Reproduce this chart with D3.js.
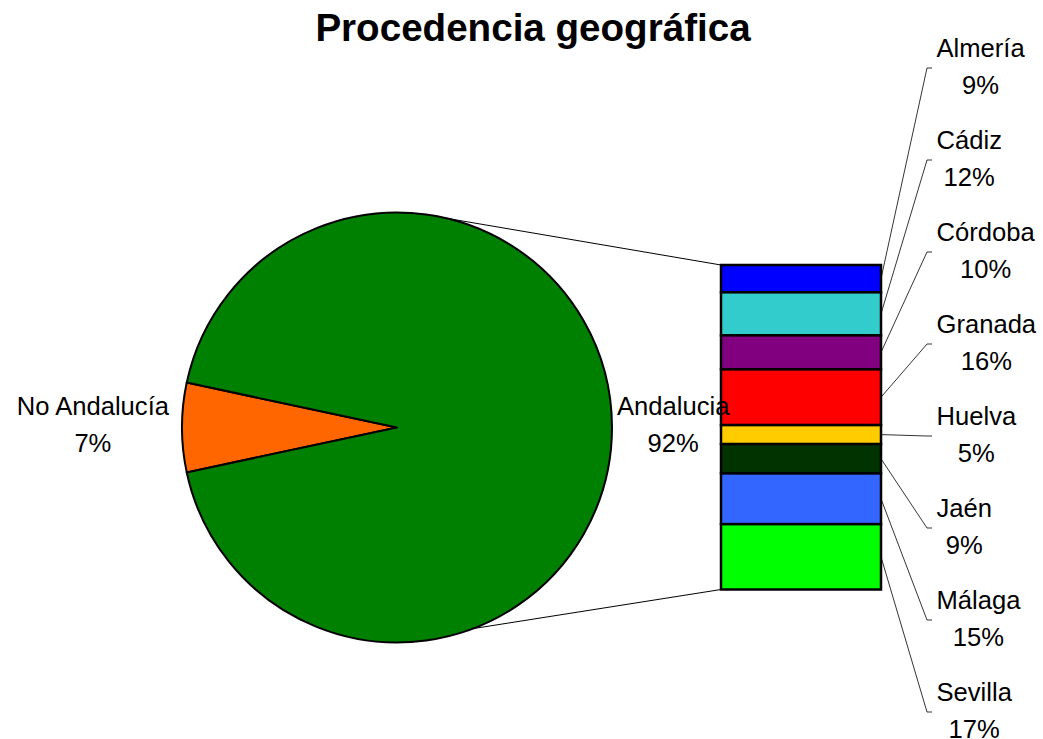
<!DOCTYPE html>
<html>
<head>
<meta charset="utf-8">
<script src="https://cdn.jsdelivr.net/npm/d3@7"></script>
<style>
  body { margin: 0; background: #fff; }
  svg { display: block; }
  text { font-family: "Liberation Sans", Arial, sans-serif; fill: #000; }
</style>
</head>
<body>
<svg id="chart" width="1043" height="739"></svg>
<script>
const title = 'Procedencia geográfica'

// pie: first plot
const pieNames = ['No Andalucía', 'Andalucia']
const pieValues = [6.7, 93.3]
const pieLabels = ['7%', '92%']
const pieColors = ['#ff6600', '#008000']

// bar: desglose de Andalucía
const barNames = ['Almería', 'Cádiz', 'Córdoba', 'Granada', 'Huelva', 'Jaén', 'Málaga', 'Sevilla']
const barValues = [27.3, 43, 34, 55.7, 19, 29.3, 50.7, 65.3]
const barLabels = ['9%', '12%', '10%', '16%', '5%', '9%', '15%', '17%']
const barColors = ['#0000ff', '#33cccc', '#800080', '#ff0000', '#ffcc00', '#003300', '#3366ff', '#00ff00']

const svg = d3.select('#chart')
const cx = 397, cy = 427.5, r = 215 // centro y radio de la tarta
const barX0 = 721, barX1 = 881
const fontSize = 25.6, lineGap = 36.5

svg.append('text')
  .attr('x', 533).attr('y', 41)
  .attr('text-anchor', 'middle')
  .style('font-size', '38.6px').style('font-weight', 'bold')
  .text(title)

// escala de la barra apilada
const y = d3.scaleLinear()
  .domain([0, d3.sum(barValues)])
  .range([265, 589.5])
const cum = [0, ...d3.cumsum(barValues)]
const segs = barNames.map((name, i) => ({
  name, label: barLabels[i], color: barColors[i],
  y0: y(cum[i]), y1: y(cum[i + 1])
}))

// lineas que unen la tarta con la barra
const onCircle = a => [cx + r * Math.sin(a), cy - r * Math.cos(a)]
const rad = deg => deg * Math.PI / 180
const joins = [
  [onCircle(rad(13.3)), [barX0, y.range()[0]]],
  [onCircle(rad(159.3)), [barX0, y.range()[1]]]
]
svg.append('g').selectAll('line').data(joins).join('line')
  .attr('x1', d => d[0][0]).attr('y1', d => d[0][1])
  .attr('x2', d => d[1][0]).attr('y2', d => d[1][1])
  .attr('stroke', '#000').attr('stroke-width', 1)

// tarta
const orange = 2 * Math.PI * pieValues[0] / d3.sum(pieValues)
const start = 1.5 * Math.PI - orange / 2
const pie = d3.pie().sort(null).startAngle(start).endAngle(start + 2 * Math.PI)
const arcs = pie(pieValues)
const arc = d3.arc().innerRadius(0).outerRadius(r)
svg.append('g').attr('transform', `translate(${cx},${cy})`)
  .selectAll('path').data(arcs).join('path')
  .attr('d', arc)
  .attr('fill', (d, i) => pieColors[i])
  .attr('stroke', '#000').attr('stroke-width', 2)
  .attr('stroke-linejoin', 'round')

// barra
svg.append('g').selectAll('rect').data(segs).join('rect')
  .attr('x', barX0).attr('width', barX1 - barX0)
  .attr('y', d => d.y0).attr('height', d => d.y1 - d.y0)
  .attr('fill', d => d.color)
  .attr('stroke', '#000').attr('stroke-width', 2.5)

// bloque de etiqueta de dos lineas, centradas entre si
function labelBlock (lines, x, anchor, base) {
  const g = svg.append('g')
  const t = g.selectAll('text').data(lines).join('text')
    .attr('y', (d, i) => base + i * lineGap)
    .attr('text-anchor', 'middle')
    .style('font-size', fontSize + 'px')
    .text(d => d)
  const w = d3.max(t.nodes(), n => n.getComputedTextLength())
  t.attr('x', anchor === 'start' ? x + w / 2 : x - w / 2)
}

// etiquetas de la tarta
const pieLabelX = [cx - r - 13, cx + r + 5]
arcs.forEach((d, i) => {
  labelBlock([pieNames[i], pieLabels[i]], pieLabelX[i], i === 0 ? 'end' : 'start', 415)
})

// etiquetas de la barra con lineas guia
const ly = d3.scalePoint().domain(barNames).range([48, 692])
svg.append('g').selectAll('path').data(segs).join('path')
  .attr('d', d => {
    const my = (d.y0 + d.y1) / 2
    const ty = ly(d.name) + 20
    return d3.line()([[barX1, my], [927, ty], [932, ty]])
  })
  .attr('fill', 'none').attr('stroke', '#000').attr('stroke-width', 0.8)

segs.forEach(d => {
  labelBlock([d.name, d.label], 936.5, 'start', ly(d.name) + 9)
})
</script>
</body>
</html>
